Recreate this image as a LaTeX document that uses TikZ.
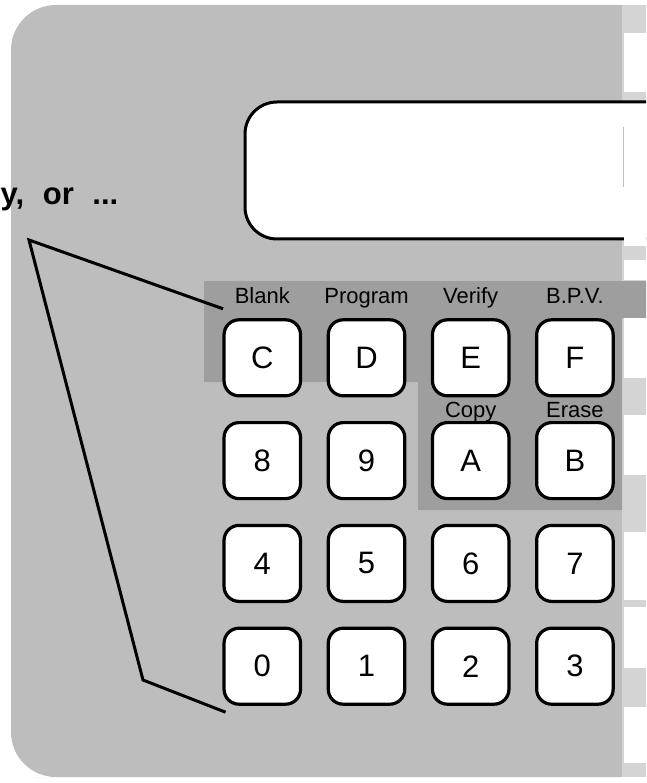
\documentclass[tikz,border=0pt]{standalone}
\usepackage{fontspec}
\setmainfont{Liberation Sans}
\usepackage{xcolor}
\usepackage{tikz}
\usetikzlibrary{positioning, calc}

\begin{document}
\begin{tikzpicture}[
    x=1pt, y=-1pt,
    node distance=26.8pt and 27.7pt,
    key/.style={
        draw,
        fill=white,
        line width=3.2pt,
        rounded corners=15pt,
        outer sep=0pt,
        minimum width=76.5pt,
        minimum height=76pt,
        font=\fontsize{31}{33}\selectfont
    },
    fname/.style={
        inner sep=0pt,
        outer sep=0pt,
        text depth=0pt,
        font=\fontsize{22}{24}\selectfont
    },
    display/.style={
        draw,
        fill=white,
        line width=3pt,
        rounded corners=32pt,
        outer sep=0pt,
        minimum width=470pt,
        minimum height=137pt
    },
    wire/.style={line width=3pt, line join=miter}
]

\useasboundingbox (0,0) rectangle (646,783);
\clip (0,0) rectangle (646,783);

% panel and shading
\fill[black!26] (622,5) -- (80,5) [rounded corners=45pt] -- (11,5) -- (11,777)
    -- (80,777) [sharp corners] -- (622,777) -- cycle;
\fill[black!17] (622,5) rectangle (646,777);
\fill[black!38] (204,281) -- (646,281) -- (646,318) -- (622,318) -- (622,510)
    -- (418,510) -- (418,382) -- (204,382) -- cycle;

\node[display, anchor=north west] (display) at (245,102) {};

% right edge strip
\foreach \ya/\yb in {33/92, 104/246, 260/280, 318/378, 415/475, 532/600, 607/668, 707/763}
    \fill[white] (624,\ya) rectangle (646,\yb);
\draw[black!25, line width=0.8pt] (623,127) -- (623,187);

% keys
\node[key] (keyC) at (262.3,357.8) {C};
\node[key, right=of keyC] (keyD) {D};
\node[key, right=of keyD] (keyE) {E};
\node[key, right=of keyE] (keyF) {F};

\node[key, below=of keyC] (key8) {8};
\node[key, right=of key8] (key9) {9};
\node[key, right=of key9] (keyA) {A};
\node[key, right=of keyA] (keyB) {B};

\node[key, below=of key8] (key4) {4};
\node[key, right=of key4] (key5) {5};
\node[key, right=of key5] (key6) {6};
\node[key, right=of key6] (key7) {7};

\node[key, below=of key4] (key0) {0};
\node[key, right=of key0] (key1) {1};
\node[key, right=of key1] (key2) {2};
\node[key, right=of key2] (key3) {3};

% function names
\node[fname, above=16pt of keyC] (blank) {Blank};
\node[fname, above=16pt of keyD] (program) {Program};
\node[fname, above=16pt of keyE] (verify) {Verify};
\node[fname, above=16pt of keyF] (bpv) {B.P.V.};
\node[fname, above=5pt of keyA] (copy) {Copy};
\node[fname, above=5pt of keyB] (erase) {Erase};

% pointer
\node[anchor=base west, inner sep=0pt, font=\bfseries\fontsize{31}{34}\selectfont] (hint)
    at (0.5,205) {y,\hspace{0.6em}or\hspace{0.6em}...};
\coordinate (wireTop) at ($(keyC.north west)+(-1,-11)$);
\coordinate (bendTop) at (29,240);
\coordinate (bendLow) at (143,680);
\coordinate (wireLow) at ($(key0.south west)+(1.5,8)$);
\draw[wire] (wireTop) -- (bendTop) -- (bendLow) -- (wireLow);

\end{tikzpicture}
\end{document}
